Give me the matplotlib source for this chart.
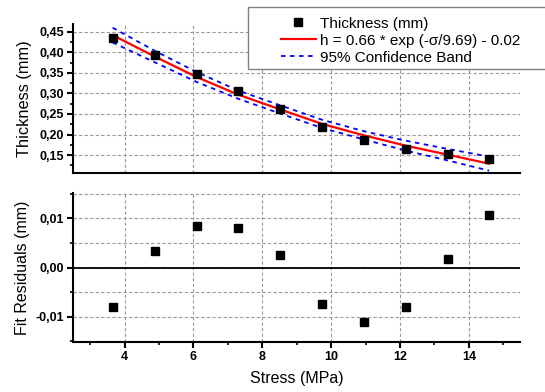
import matplotlib
matplotlib.use('Agg')
import matplotlib.pyplot as plt
from matplotlib.ticker import MultipleLocator, FuncFormatter
from matplotlib.lines import Line2D
from matplotlib.patches import Rectangle

plt.rcParams['font.family'] = ['Liberation Sans', 'DejaVu Sans']

# values
stress = [3.65, 4.87, 6.09, 7.30, 8.52, 9.73, 10.95, 12.16, 13.38, 14.59]
thickness = [0.434, 0.393, 0.348, 0.305, 0.263, 0.219, 0.187, 0.165, 0.153, 0.140]
fit = [0.442, 0.390, 0.340, 0.297, 0.261, 0.226, 0.198, 0.173, 0.151, 0.129]
band_upper = [0.460, 0.404, 0.352, 0.307, 0.271, 0.236, 0.208, 0.185, 0.165, 0.146]
band_lower = [0.424, 0.376, 0.328, 0.287, 0.251, 0.216, 0.188, 0.161, 0.137, 0.112]
residuals = [-0.0081, 0.0034, 0.0085, 0.0080, 0.0025, -0.0074, -0.0111, -0.0081, 0.0017, 0.0107]

fig = plt.figure(figsize=(5.45, 3.92), dpi=100)
ax1 = fig.add_axes([0.134, 0.5594, 0.821, 0.3794])
ax2 = fig.add_axes([0.134, 0.1283, 0.821, 0.3786])

grid_kw = dict(color='#9a9a9a', linestyle=(0, (3, 2)), linewidth=0.8)
comma = lambda v, p: ('%.2f' % v).replace('.', ',')

for ax in (ax1, ax2):
    for s in ('top', 'right'):
        ax.spines[s].set_visible(False)
    for s in ('left', 'bottom'):
        ax.spines[s].set_linewidth(1.5)
    ax.set_xlim(2.5, 15.5)
    ax.xaxis.set_major_locator(MultipleLocator(2))
    ax.xaxis.set_minor_locator(MultipleLocator(1))
    ax.tick_params(which='major', direction='out', length=4.5, width=1.5, labelsize=9, pad=2)
    ax.tick_params(which='minor', direction='out', length=2.5, width=1.2)
    ax.grid(True, which='major', **grid_kw)
    ax.set_axisbelow(True)
    ax.yaxis.set_major_formatter(FuncFormatter(comma))

# top panel
ax1.plot(stress, band_upper, color='#0000ff', linestyle=(0, (2.5, 2.5)), linewidth=1.3)
ax1.plot(stress, band_lower, color='#0000ff', linestyle=(0, (2.5, 2.5)), linewidth=1.3)
ax1.plot(stress, fit, color='#ff0000', linewidth=1.6)
ax1.plot(stress, thickness, 's', color='black', markersize=5.5)
ax1.set_ylim(0.107, 0.469)
ax1.yaxis.set_major_locator(MultipleLocator(0.05))
ax1.yaxis.set_minor_locator(MultipleLocator(0.025))
ax1.tick_params(axis='x', which='both', length=0, labelbottom=False)
ax1.set_ylabel('Thickness (mm)', fontsize=11.8, labelpad=5)
for lab in ax1.get_yticklabels():
    lab.set_fontweight('bold')

# bottom panel
ax2.axhline(0, color='black', linewidth=1.3)
ax2.plot(stress, residuals, 's', color='black', markersize=5.5)
ax2.set_ylim(-0.0151, 0.0151)
ax2.yaxis.set_major_locator(MultipleLocator(0.01))
ax2.yaxis.set_minor_locator(MultipleLocator(0.005))
ax2.grid(True, which='minor', axis='y', **grid_kw)
ax2.set_ylabel('Fit Residuals (mm)', fontsize=11.5, labelpad=4)
ax2.set_xlabel('Stress (MPa)', fontsize=11.5, labelpad=6)
for lab in ax2.get_xticklabels() + ax2.get_yticklabels():
    lab.set_fontweight('bold')

# legend box
fig.patches.append(Rectangle((248 / 545, 1 - 69 / 392), 300 / 545, 62.3 / 392,
                             transform=fig.transFigure, facecolor='white',
                             edgecolor='#808080', linewidth=1.0, zorder=5))
handles = [
    Line2D([], [], marker='s', color='black', linestyle='none', markersize=5.5),
    Line2D([], [], color='#ff0000', linewidth=1.6),
    Line2D([], [], color='#0000ff', linestyle=(0, (2.5, 2.5)), linewidth=1.3),
]
labels = ['Thickness (mm)', 'h = 0.66 * exp (-\u03c3/9.69) - 0.02', '95% Confidence Band']
leg = fig.legend(handles, labels, loc='upper left', bbox_to_anchor=(270 / 545, 1 - 6 / 392),
                 frameon=False, fontsize=11, handlelength=2.3, handletextpad=0.3,
                 labelspacing=0.2, borderpad=0.2)
leg.set_zorder(6)

fig.savefig('out.png', dpi=100)
